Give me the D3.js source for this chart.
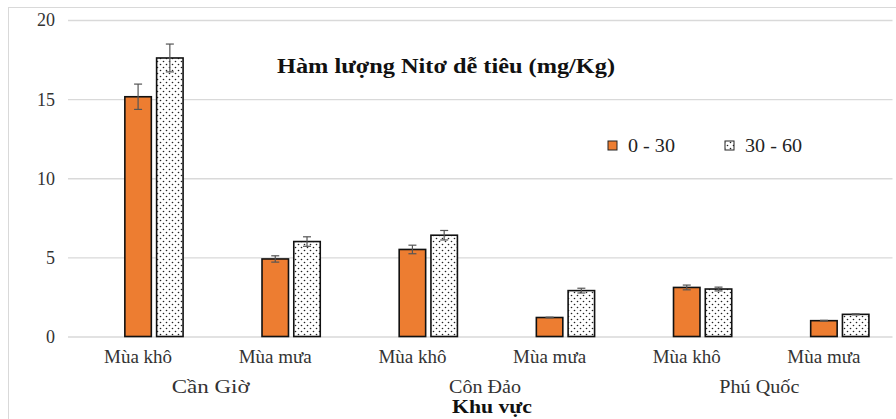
<!DOCTYPE html>
<html><head><meta charset="utf-8">
<script src="https://cdn.jsdelivr.net/npm/d3@7"></script>
<style>body{margin:0;background:#fff}svg{display:block}svg text{font-family:'Liberation Serif','Times New Roman',serif}</style>
</head><body>
<script>
const regions = ["Cần Giờ", "Côn Đảo", "Phú Quốc"];
const seasons = ["Mùa khô", "Mùa mưa"];
const categories = ["Cần Giờ|Mùa khô","Cần Giờ|Mùa mưa","Côn Đảo|Mùa khô","Côn Đảo|Mùa mưa","Phú Quốc|Mùa khô","Phú Quốc|Mùa mưa"];
const seriesNames = ["0 - 30", "30 - 60"];
const values0_30 = [15.15, 4.9, 5.5, 1.2, 3.1, 1.0];
const err0_30 = [0.8, 0.2, 0.27, 0.02, 0.15, 0.02];
const values30_60 = [17.6, 6.0, 6.4, 2.9, 3.0, 1.4];
const err30_60 = [0.88, 0.3, 0.3, 0.15, 0.12, 0.03];
const yTicks = [0, 5, 10, 15, 20];
const title = "Hàm lượng Nitơ dễ tiêu (mg/Kg)";
const xTitle = "Khu vực";

const W = 896, H = 419;
const svg = d3.select("body").append("svg").attr("width", W).attr("height", H);
const defs = svg.append("defs");
const pat = defs.append("pattern").attr("id","dots").attr("patternUnits","userSpaceOnUse")
  .attr("width",6).attr("height",6);
pat.append("rect").attr("width",6).attr("height",6).attr("fill","#fff");
pat.append("circle").attr("cx",1.5).attr("cy",1.5).attr("r",0.8).attr("fill","#222");
pat.append("circle").attr("cx",4.5).attr("cy",4.5).attr("r",0.8).attr("fill","#222");

svg.append("rect").attr("x",8.5).attr("y",7.5).attr("width",W+10).attr("height",H+10)
  .attr("fill","none").attr("stroke","#d9d9d9");

const x = d3.scaleBand().domain(categories).range([69.5, 892.5]).paddingInner(0).paddingOuter(0);
const slots = ["", ...seriesNames];
const xi = d3.scaleBand().domain(slots).range([x.bandwidth()/2-45, x.bandwidth()/2+45]).paddingInner(5/30).paddingOuter(0);
const y = d3.scaleLinear().domain([0, 20]).range([336.5, 20]);

// gridlines
const yAxis = d3.axisLeft(y).tickValues(yTicks).tickSize(-(892.5-68)).tickPadding(13);
const gy = svg.append("g").attr("transform","translate(68,0)").call(yAxis);
gy.attr("font-family", null);
gy.select(".domain").remove();
gy.selectAll(".tick line").attr("stroke","#d9d9d9").attr("stroke-width",1.3);
gy.selectAll(".tick text").style("font-size","18px").attr("fill","#333").attr("dy","0.33em");

const series = [
  {name: seriesNames[0], vals: values0_30, errs: err0_30, fill: "#ED7D31"},
  {name: seriesNames[1], vals: values30_60, errs: err30_60, fill: "url(#dots)"}
];

series.forEach(s => {
  const g = svg.append("g");
  g.selectAll("rect").data(categories).join("rect")
    .attr("x", (c) => x(c) + xi(s.name))
    .attr("width", xi.bandwidth())
    .attr("y", (c,i) => y(s.vals[i]))
    .attr("height", (c,i) => y(0) - y(s.vals[i]))
    .attr("fill", s.fill).attr("stroke","#111").attr("stroke-width",1.6);
  const eg = svg.append("g").attr("stroke","#555").attr("stroke-width",1.2);
  categories.forEach((c,i) => {
    const cx = x(c) + xi(s.name) + xi.bandwidth()/2;
    const t = y(s.vals[i] + s.errs[i]), b = y(s.vals[i] - s.errs[i]);
    eg.append("line").attr("x1",cx).attr("x2",cx).attr("y1",t).attr("y2",b);
    eg.append("line").attr("x1",cx-4).attr("x2",cx+4).attr("y1",t).attr("y2",t);
    eg.append("line").attr("x1",cx-4).attr("x2",cx+4).attr("y1",b).attr("y2",b);
  });
});

// category labels
svg.append("g").selectAll("text").data(categories).join("text")
  .attr("x", c => x(c) + x.bandwidth()/2).attr("y", 363)
  .attr("text-anchor","middle").style("font-size","19px").attr("fill","#333")
  .text(c => c.split("|")[1]);
const regionLen = [78, 72, 80];
svg.append("g").selectAll("text").data(regions).join("text")
  .attr("x", (r,i) => x(categories[2*i]) + x.bandwidth() + 4).attr("y", 393)
  .attr("text-anchor","middle").style("font-size","19px").attr("fill","#333")
  .attr("textLength",(r,i)=>regionLen[i]).attr("lengthAdjust","spacingAndGlyphs")
  .text(r => r);

svg.append("text").attr("x",492).attr("y",413).attr("text-anchor","middle")
  .style("font-weight","bold").style("font-size","19px").attr("fill","#111")
  .attr("textLength",80).attr("lengthAdjust","spacingAndGlyphs").text(xTitle);

svg.append("text").attr("x",446).attr("y",73).attr("text-anchor","middle")
  .style("font-weight","bold").style("font-size","20px").attr("fill","#111")
  .attr("textLength",338).attr("lengthAdjust","spacingAndGlyphs").text(title);

// legend
const lx = [608, 725], tx = [628, 745], tl = [47, 57];
series.forEach((s,i) => {
  svg.append("rect").attr("x",lx[i]).attr("y",141).attr("width",9).attr("height",9)
    .attr("fill",s.fill).attr("stroke","#222").attr("stroke-width",1);
  svg.append("text").attr("x",tx[i]).attr("y",152).style("font-size","18px")
    .attr("textLength",tl[i]).attr("lengthAdjust","spacingAndGlyphs")
    .attr("fill","#222").text(s.name);
});
</script>
</body></html>
